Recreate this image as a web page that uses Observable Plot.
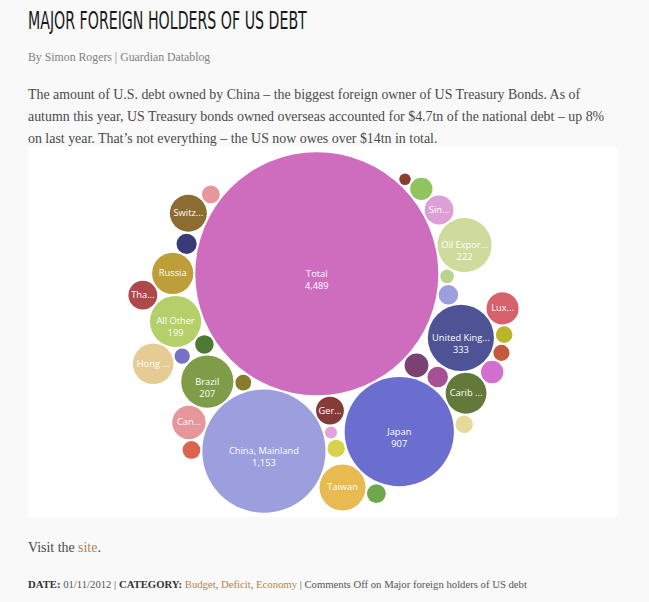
<!DOCTYPE html>
<html>
<head>
<meta charset="utf-8">
<script src="https://cdn.jsdelivr.net/npm/d3@7"></script>
<script src="https://cdn.jsdelivr.net/npm/@observablehq/plot@0.6"></script>
<style>
  html, body { margin: 0; padding: 0; }
  body { width: 649px; height: 602px; overflow: hidden; background: #f9f9f9; position: relative;
         font-family: "Liberation Serif", "DejaVu Serif", serif; color: #444; }
  .abs { position: absolute; white-space: nowrap; }
  #title { left: 28px; top: 6px; font-family: "Liberation Sans Narrow", "DejaVu Sans Condensed", sans-serif;
           font-size: 25px; color: #1a1a1a; transform: scaleX(0.63); transform-origin: 0 0; }
  #byline { left: 28px; top: 50px; font-size: 11.8px; color: #808080; }
  #intro { left: 28px; top: 84px; font-size: 13.9px; line-height: 22px; color: #4a4a4a; }
  #chart { left: 28px; top: 147px; width: 590px; height: 370px; background: #fff; }
  #visit { left: 28px; top: 540px; font-size: 13.9px; color: #4a4a4a; }
  #meta { left: 28px; top: 578px; font-size: 10.7px; color: #555; }
  a { color: #b5824c; text-decoration: none; }
  b { color: #333; }
</style>
</head>
<body>
<div id="title" class="abs">MAJOR FOREIGN HOLDERS OF US DEBT</div>
<div id="byline" class="abs">By Simon Rogers | Guardian Datablog</div>
<div id="intro" class="abs">The amount of U.S. debt owned by China – the biggest foreign owner of US Treasury Bonds. As of<br>autumn this year, US Treasury bonds owned overseas accounted for $4.7tn of the national debt – up 8%<br>on last year. That’s not everything – the US now owes over $14tn in total.</div>
<div id="chart" class="abs"></div>
<div id="visit" class="abs">Visit the <a href="#">site</a>.</div>
<div id="meta" class="abs"><b>DATE:</b> 01/11/2012 | <b>CATEGORY:</b> <a href="#">Budget</a>, <a href="#">Deficit</a>, <a href="#">Economy</a> | Comments Off on Major foreign holders of US debt</div>
<script>
// Holders of US Treasury securities, $bn (small unlabeled bubbles estimated from size)
const names = [
  "Total", "China, Mainland", "Japan", "United Kingdom", "Oil Exporters", "Brazil", "All Other",
  "Taiwan", "Russia", "Carib Bnkng Ctrs", "Hong Kong", "Switzerland", "Canada", "Luxembourg",
  "Singapore", "Thailand", "Germany",
  "Ireland", "Korea", "India", "Turkey", "Mexico", "Poland", "Philippines", "Belgium", "France",
  "Norway", "Israel", "Chile", "Colombia", "Egypt", "Australia", "Netherlands", "Sweden", "Malaysia", "Italy"
];
const values = [
  4489, 1153, 907, 333, 222, 207, 199,
  161, 129, 127, 125, 104, 85, 78,
  63, 63, 59,
  43, 38, 38, 32, 31, 29, 27, 26, 24,
  24, 23, 23, 21, 20, 19, 18, 14, 11, 10
];
// text shown inside the bubbles (truncated as in the original)
const labels = [
  "Total", "China, Mainland", "Japan", "United King...", "Oil Expor...", "Brazil", "All Other",
  "Taiwan", "Russia", "Carib ...", "Hong ...", "Switz...", "Can...", "Lux...",
  "Sin...", "Tha...", "Ger...",
  "", "", "", "", "", "", "", "", "",
  "", "", "", "", "", "", "", "", "", ""
];
const colors = [
  "#ce6dbd", "#9c9ede", "#6b6ecf", "#4e5395", "#cedb9c", "#7f9d48", "#b5cf6b",
  "#e7ba52", "#bd9e39", "#637939", "#e7cb94", "#8c6d31", "#e7969c", "#d6616b",
  "#de9ed6", "#ad494a", "#843c39",
  "#7b4173", "#d36fd0", "#8fc45e", "#a55194", "#393b79", "#9c9ede", "#6fa84c", "#4d7a32", "#d9634c",
  "#e7969c", "#e6d99a", "#d9d24c", "#bcb52c", "#c45a3c", "#8a7b2c", "#7570c8", "#b8d48f", "#e0a2d8", "#8b3c32"
];
const showValueMin = 199;

// Packing topology: each bubble sits against two bubbles already placed
const packOrder = [
  ["Australia", "Total", "China, Mainland"],
  ["Germany", "China, Mainland", "Total"],
  ["Malaysia", "China, Mainland", "Germany"],
  ["Chile", "China, Mainland", "Malaysia"],
  ["Japan", "Chile", "Total"],
  ["Ireland", "Japan", "Total"],
  ["Turkey", "Japan", "Ireland"],
  ["Brazil", "Australia", "China, Mainland"],
  ["Belgium", "Total", "Brazil"],
  ["All Other", "Total", "Belgium"],
  ["Carib Bnkng Ctrs", "Japan", "Turkey"],
  ["Russia", "Total", "All Other"],
  ["Taiwan", "China, Mainland", "Japan"],
  ["Philippines", "Taiwan", "Japan"],
  ["Netherlands", "All Other", "Brazil"],
  ["Thailand", "Russia", "All Other"],
  ["Israel", "Japan", "Carib Bnkng Ctrs"],
  ["United Kingdom", "Carib Bnkng Ctrs", "Turkey"],
  ["Korea", "Carib Bnkng Ctrs", "United Kingdom"],
  ["Egypt", "Korea", "United Kingdom"],
  ["Hong Kong", "All Other", "Netherlands"],
  ["Poland", "United Kingdom", "Total"],
  ["Sweden", "Poland", "Total"],
  ["Oil Exporters", "Sweden", "Total"],
  ["Singapore", "Oil Exporters", "Total"],
  ["India", "Singapore", "Total"],
  ["Italy", "India", "Total"],
  ["Mexico", "Total", "Russia"],
  ["Switzerland", "Total", "Mexico"],
  ["Norway", "Total", "Switzerland"],
  ["Colombia", "Egypt", "United Kingdom"],
  ["Luxembourg", "Colombia", "United Kingdom"],
  ["Canada", "Brazil", "China, Mainland"],
  ["France", "Canada", "China, Mainland"]
];

const W = 590, H = 370, PAD = 2;
const rOpts = {type: "sqrt", domain: [0, d3.max(values)], range: [0, 121.5]};
const rScale = Plot.scale({r: rOpts});

const byName = new Map();
const nodes = names.map((name, i) => {
  const n = {name, value: values[i], label: labels[i], r: rScale.apply(values[i])};
  byName.set(name, n);
  return n;
});

// root bubble, then the largest holder below-left of it
const root = byName.get(names[0]), second = byName.get(names[1]);
root.x = 0; root.y = 0;
const secondAngle = 106.6 * Math.PI / 180;
second.x = Math.cos(secondAngle) * (root.r + second.r + PAD);
second.y = Math.sin(secondAngle) * (root.r + second.r + PAD);

function placeTangent(X, A, B) {
  const dA = A.r + X.r + PAD, dB = B.r + X.r + PAD;
  const dx = B.x - A.x, dy = B.y - A.y, d = Math.hypot(dx, dy);
  const a = (dA * dA - dB * dB + d * d) / (2 * d);
  const h = Math.sqrt(Math.max(0, dA * dA - a * a));
  const px = A.x + a * dx / d, py = A.y + a * dy / d;
  X.x = px - h * dy / d;
  X.y = py + h * dx / d;
}
for (const [x, a, b] of packOrder) placeTangent(byName.get(x), byName.get(a), byName.get(b));

// center the packed group in the panel
const x0 = d3.min(nodes, n => n.x - n.r), x1 = d3.max(nodes, n => n.x + n.r);
const y0 = d3.min(nodes, n => n.y - n.r), y1 = d3.max(nodes, n => n.y + n.r);
nodes.forEach(n => { n.x = n.x - (x0 + x1) / 2 + W / 2; n.y = n.y - (y0 + y1) / 2 + H / 2; });
nodes.forEach(n => { n.valueText = d3.format(",")(n.value); });

const labelFont = "'Open Sans', 'DejaVu Sans', sans-serif";
const chart = Plot.plot({
  width: W, height: H, margin: 0,
  style: {background: "#fff", overflow: "visible"},
  x: {domain: [0, W], range: [0, W], axis: null},
  y: {domain: [0, H], range: [0, H], axis: null},
  r: rOpts,
  color: {type: "ordinal", domain: names, range: colors},
  marks: [
    Plot.dot(nodes, {x: "x", y: "y", r: "value", fill: "name", stroke: null, sort: null}),
    Plot.text(nodes.filter(n => n.label), {
      x: "x", y: "y", text: "label", fill: "#fff", fontSize: 9.3, fontFamily: labelFont, textAnchor: "middle"
    }),
    Plot.text(nodes.filter(n => n.label && n.value >= showValueMin), {
      x: "x", y: "y", dy: 12, text: "valueText", fill: "#fff", fontSize: 9.3, fontFamily: labelFont, textAnchor: "middle"
    })
  ]
});
document.getElementById("chart").appendChild(chart);
</script>
</body>
</html>
